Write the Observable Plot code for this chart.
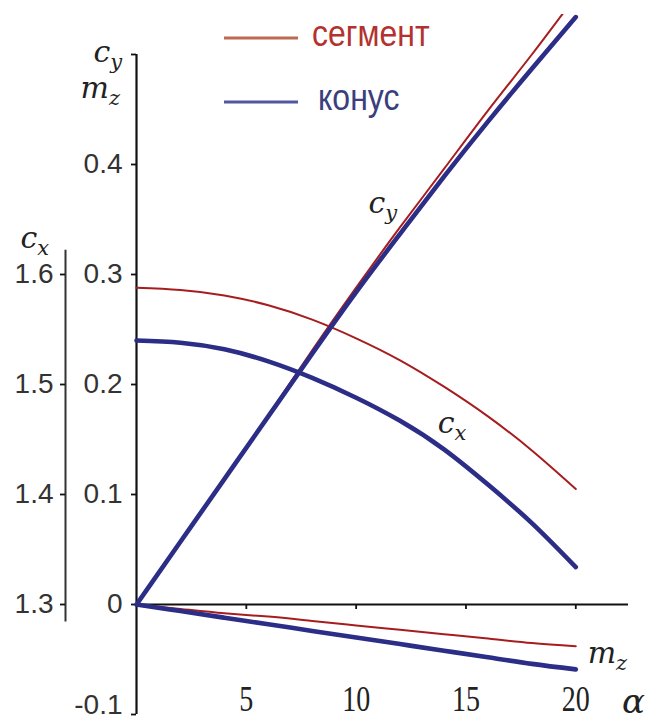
<!DOCTYPE html>
<html>
<head>
<meta charset="utf-8">
<script src="https://cdn.jsdelivr.net/npm/d3@7"></script>
<script src="https://cdn.jsdelivr.net/npm/@observablehq/plot@0.6"></script>
<style>
  html, body { margin: 0; padding: 0; background: #fff; }
  #chart { position: relative; width: 647px; height: 722px; }
  #chart svg { display: block; }
  #legend { position: absolute; left: 0; top: 0; pointer-events: none; }
</style>
</head>
<body>
<div id="chart"></div>
<script>
// Angle of attack, degrees
const alpha = [0, 2, 4, 6, 8, 10, 12, 14, 16, 18, 20];

// Lift coefficient c_y
const cySegment = [0, 0.057, 0.114, 0.172, 0.231, 0.288, 0.343, 0.396, 0.449, 0.500, 0.553];
const cyCone    = [0, 0.057, 0.114, 0.171, 0.228, 0.284, 0.337, 0.389, 0.439, 0.487, 0.534];

// Drag coefficient c_x (own axis on the left)
const cxSegment = [1.588, 1.586, 1.581, 1.572, 1.559, 1.542, 1.522, 1.498, 1.471, 1.440, 1.405];
const cxCone    = [1.540, 1.538, 1.532, 1.521, 1.506, 1.488, 1.467, 1.441, 1.409, 1.374, 1.334];

// Pitching moment coefficient m_z
const mzSegment = [0, -0.004, -0.008, -0.011, -0.015, -0.019, -0.023, -0.027, -0.031, -0.035, -0.038];
const mzCone    = [0, -0.006, -0.012, -0.018, -0.024, -0.030, -0.036, -0.042, -0.048, -0.054, -0.059];

const seriesNames = ["сегмент", "конус"];
const xTicks = [5, 10, 15, 20];
const yTicks = [-0.1, 0, 0.1, 0.2, 0.3, 0.4, 0.5];
const cxTicks = [1.3, 1.4, 1.5, 1.6];

// c_x shares the c_y scale, shifted so that c_x = 1.3 sits on c_y = 0
const cxBase = 1.3;

const series = [
  {name: seriesNames[0], cy: cySegment, cx: cxSegment, mz: mzSegment},
  {name: seriesNames[1], cy: cyCone, cx: cxCone, mz: mzCone}
];
const rows = series.flatMap(s => alpha.flatMap((a, i) => [
  {alpha: a, value: s.cy[i], series: s.name, coef: "cy"},
  {alpha: a, value: s.cx[i] - cxBase, series: s.name, coef: "cx"},
  {alpha: a, value: s.mz[i], series: s.name, coef: "mz"}
]));

// Italic symbols with subscripts: axis titles and curve names
const symbols = [
  {t: "c", sub: "y", alpha: -1.96, value: 0.5015},
  {t: "m", sub: "z", alpha: -2.55, value: 0.4696},
  {t: "c", sub: "x", alpha: -5.28, value: 0.3324},
  {t: "c", sub: "y", alpha: 10.56, value: 0.3642},
  {t: "c", sub: "x", alpha: 13.71, value: 0.1642},
  {t: "m", sub: "z", alpha: 20.54, value: -0.0440}
];
const axisName = [{t: "α", alpha: 22.63, value: -0.0883}];

const colors = {"сегмент": "#a61d1f", "конус": "#2b2d86"};
const widths = {"сегмент": 2, "конус": 4.6};
const mathFont = "DejaVu Serif";

const lineMarks = seriesNames.flatMap(name => [
  Plot.line(rows.filter(d => d.series === name && d.coef !== "cy"), {
    x: "alpha", y: "value", z: "coef", stroke: "series",
    strokeWidth: widths[name], curve: "natural"
  }),
  Plot.line(rows.filter(d => d.series === name && d.coef === "cy"), {
    x: "alpha", y: "value", stroke: "series",
    strokeWidth: widths[name], curve: "natural", clip: true
  })
]);

const chart = Plot.plot({
  width: 647,
  height: 722,
  marginTop: 14,
  marginLeft: 136,
  marginRight: 19,
  marginBottom: 118,
  x: {domain: [0, 22.4], range: [136, 628]},
  y: {domain: [-0.1, 0.5], range: [714, 54]},
  color: {domain: seriesNames, range: seriesNames.map(n => colors[n])},
  style: {background: "#fff", color: "#111", overflow: "visible"},
  marks: [
    // α axis line through c_y = 0
    Plot.ruleY([0], {stroke: "#111", strokeWidth: 2}),
    // c_y / m_z axis line
    Plot.ruleX([0], {y1: -0.1, y2: 0.5, stroke: "#111", strokeWidth: 2.2}),
    // c_x axis line
    Plot.ruleX([0], {y1: -0.016, y2: 0.322, dx: -71, stroke: "#333", strokeWidth: 2}),
    Plot.axisY({
      ticks: yTicks,
      label: null,
      tickSize: 5,
      tickPadding: 9,
      tickFormat: d => d === 0.5 ? "" : d === 0 ? "0" : d.toFixed(1),
      fontSize: 28,
      fontFamily: "Liberation Sans",
      fill: "#333",
      strokeWidth: 1.8
    }),
    Plot.axisY({
      ticks: cxTicks.map(t => t - cxBase),
      label: null,
      tickSize: 5,
      tickPadding: 7,
      dx: -71,
      tickFormat: d => (d + cxBase).toFixed(1),
      fontSize: 28,
      fontFamily: "Liberation Sans",
      fill: "#333",
      strokeWidth: 1.8
    }),
    Plot.axisX({
      ticks: xTicks,
      label: null,
      tickSize: 5,
      tickPadding: 77,
      tickFormat: d => String(d),
      fontSize: 28,
      fontFamily: "Liberation Serif",
      fill: "#222",
      strokeWidth: 1.8
    }),
    ...lineMarks,
    Plot.text(symbols, {
      x: "alpha", y: "value", text: "t", textAnchor: "start",
      fontSize: 30, fontFamily: mathFont, fontStyle: "italic", fill: "#222"
    }),
    Plot.text(axisName, {
      x: "alpha", y: "value", text: "t",
      fontSize: 34, fontFamily: mathFont, fontStyle: "italic", fill: "#222"
    })
  ]
});

// Subscripts follow their symbol within the same text element
const symbolGroup = chart.querySelectorAll('g[aria-label="text"]')[0];
if (symbolGroup) {
  symbolGroup.querySelectorAll("text").forEach((t, i) => {
    const s = symbols[i];
    if (!s) return;
    const sub = document.createElementNS("http://www.w3.org/2000/svg", "tspan");
    sub.setAttribute("dx", 0);
    sub.setAttribute("dy", 7);
    sub.setAttribute("font-size", 21);
    sub.textContent = s.sub;
    t.appendChild(sub);
  });
}

// The serif tick numerals are drawn slightly tall and narrow
chart.querySelectorAll('g[aria-label="x-axis tick label"] text').forEach(t => {
  const tr = t.getAttribute("transform") || "";
  t.setAttribute("transform", `${tr} scale(1,1.25)`);
});
// Lift the lowest y label so it stays inside the picture
chart.querySelectorAll('g[aria-label="y-axis tick label"] text').forEach(t => {
  if (t.textContent === "-0.1") {
    const tr = t.getAttribute("transform") || "";
    t.setAttribute("transform", `${tr} translate(0,-9)`);
  }
});

const host = document.getElementById("chart");
host.appendChild(chart);

// Legend: line swatch + series name
const legendRows = [
  {name: seriesNames[0], swatch: "#bd6a55", text: "#b3322f", y: 38, tx: 312},
  {name: seriesNames[1], swatch: "#5257a0", text: "#3b3f7c", y: 102, tx: 318}
];
const legend = d3.create("svg")
  .attr("id", "legend")
  .attr("width", 647)
  .attr("height", 140);
const items = legend.selectAll("g").data(legendRows).join("g");
items.append("line")
  .attr("x1", 224).attr("x2", 298)
  .attr("y1", d => d.y).attr("y2", d => d.y)
  .attr("stroke", d => d.swatch)
  .attr("stroke-width", 3);
items.append("text")
  .attr("transform", d => `translate(${d.tx},${d.y + 8}) scale(1,1.15)`)
  .attr("font-family", "Liberation Sans")
  .attr("font-size", 32)
  .attr("fill", d => d.text)
  .text(d => d.name);
host.appendChild(legend.node());
</script>
</body>
</html>
